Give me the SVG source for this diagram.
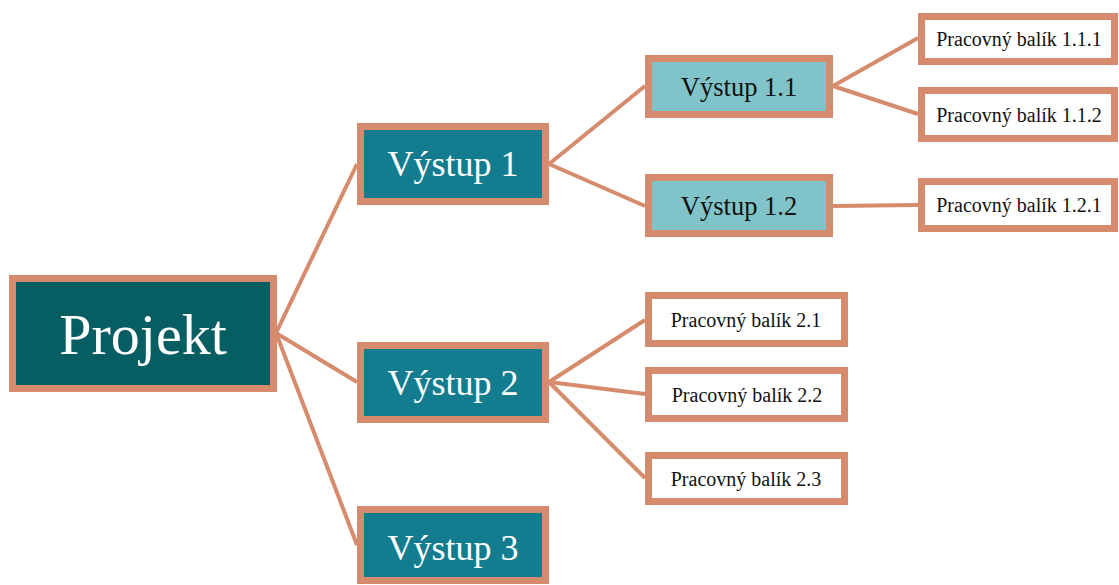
<svg xmlns="http://www.w3.org/2000/svg" width="1119" height="585" viewBox="0 0 1119 585">
<style>
.c{stroke:#D68B6C;stroke-width:4;fill:none}
.b{stroke:#D68B6C;stroke-width:7}
.p{fill:#075E62}
.v{fill:#137D8F}
.s{fill:#80C4C9}
.w{fill:#FFFFFF}
text{font-family:"Liberation Serif","Times New Roman",serif;text-anchor:middle;dominant-baseline:central}
.tp{font-size:58px;fill:#FFFFFF}
.tv{font-size:36px;fill:#FFFFFF}
.ts{font-size:26.5px;fill:#111111}
.tw{font-size:20px;fill:#111111}
</style>
<rect width="1119" height="585" fill="#FFFFFF"/>
<g id="connectors">
<line class="c" x1="276" y1="333" x2="357" y2="164"/>
<line class="c" x1="276" y1="333" x2="357" y2="382"/>
<line class="c" x1="276" y1="333" x2="357" y2="545"/>
<line class="c" x1="549" y1="164" x2="645" y2="86"/>
<line class="c" x1="549" y1="164" x2="645" y2="206"/>
<line class="c" x1="833" y1="86" x2="918" y2="38"/>
<line class="c" x1="833" y1="86" x2="918" y2="114"/>
<line class="c" x1="833" y1="206" x2="918" y2="205"/>
<line class="c" x1="549" y1="382" x2="645" y2="320"/>
<line class="c" x1="549" y1="382" x2="645" y2="394"/>
<line class="c" x1="549" y1="382" x2="645" y2="478"/>
</g>
<g id="projekt"><rect class="b p" x="12.5" y="278.5" width="261" height="110"/><text class="tp" x="143" y="334">Projekt</text></g>
<g id="vystup1"><rect class="b v" x="360.5" y="126.5" width="185" height="75"/><text class="tv" x="453" y="164">Výstup 1</text></g>
<g id="vystup2"><rect class="b v" x="360.5" y="345.5" width="185" height="74"/><text class="tv" x="453" y="383">Výstup 2</text></g>
<g id="vystup3"><rect class="b v" x="360.5" y="509.5" width="185" height="71"/><text class="tv" x="453" y="548">Výstup 3</text></g>
<g id="vystup11"><rect class="b s" x="648.5" y="58.5" width="181" height="56"/><text class="ts" x="739" y="87">Výstup 1.1</text></g>
<g id="vystup12"><rect class="b s" x="648.5" y="177.5" width="181" height="56"/><text class="ts" x="739" y="206">Výstup 1.2</text></g>
<g id="pb111"><rect class="b w" x="921.5" y="16.5" width="193" height="45"/><text class="tw" x="1019" y="39">Pracovný balík 1.1.1</text></g>
<g id="pb112"><rect class="b w" x="921.5" y="90.5" width="193" height="48"/><text class="tw" x="1019" y="115">Pracovný balík 1.1.2</text></g>
<g id="pb121"><rect class="b w" x="921.5" y="181.5" width="193" height="47"/><text class="tw" x="1019" y="205">Pracovný balík 1.2.1</text></g>
<g id="pb21"><rect class="b w" x="648.5" y="295.5" width="196" height="48"/><text class="tw" x="746" y="320">Pracovný balík 2.1</text></g>
<g id="pb22"><rect class="b w" x="648.5" y="370.5" width="196" height="48"/><text class="tw" x="747" y="395">Pracovný balík 2.2</text></g>
<g id="pb23"><rect class="b w" x="648.5" y="455.5" width="196" height="46"/><text class="tw" x="746" y="479">Pracovný balík 2.3</text></g>
</svg>
